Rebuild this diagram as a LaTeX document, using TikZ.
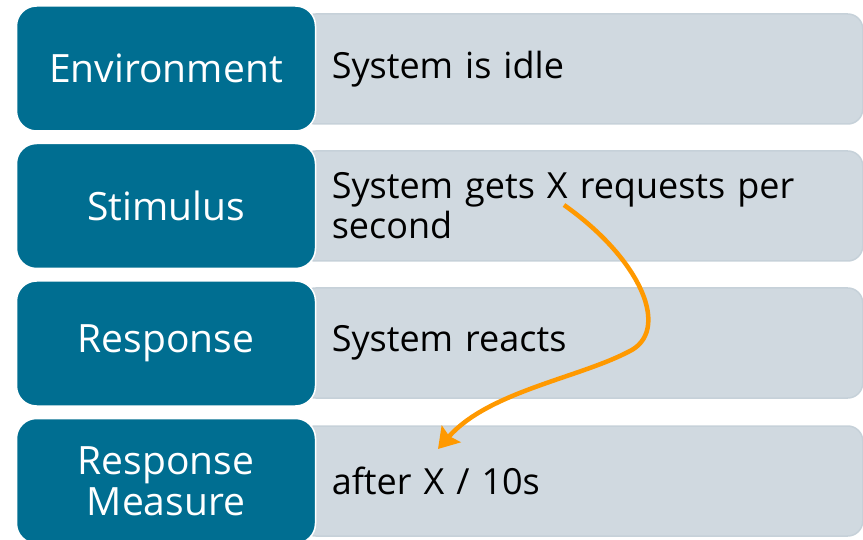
\documentclass[tikz,border=0pt]{standalone}
\usepackage{fontspec}
\setmainfont{Open Sans}
\usetikzlibrary{arrows.meta}

\definecolor{termfill}{HTML}{006E91}
\definecolor{valfill}{HTML}{D0D9E0}
\definecolor{valedge}{HTML}{C6D1D9}
\definecolor{flow}{HTML}{FF9900}

\tikzset{
  termbox/.style={draw=white, line width=1.5pt, fill=termfill, rounded corners=20pt,
    minimum width=299pt, minimum height=125pt, text=white, align=center,
    font=\fontsize{39}{41}\selectfont, inner sep=0pt},
  valbox/.style={draw=valedge, line width=1.5pt, fill=valfill, rounded corners=15pt,
    minimum height=110pt, text width=500pt, inner xsep=31pt, inner ysep=0pt,
    align=left, text=black, font=\fontsize{36}{40}\selectfont},
  flowarrow/.style={draw=flow, line width=4.5pt,
    -{Stealth[length=20pt,width=25pt,inset=3pt]}}
}

\begin{document}
\begin{tikzpicture}[x=1pt, y=-1pt]
  \useasboundingbox (0,0) rectangle (863,540);
  \clip (0,0) rectangle (863,540);

  % value boxes (behind the term boxes)
  \node[valbox, anchor=west] (v1) at (300,69)  {System is idle};
  \node[valbox, anchor=west] (v2) at (300,206) {System gets X requests per\\second};
  \node[valbox, anchor=west] (v3) at (300,343) {System reacts};
  \node[valbox, anchor=west] (v4) at (300,481) {after X / 10s};

  % term boxes
  \node[termbox] (t1) at (166,68.5)  {Environment};
  \node[termbox] (t2) at (166,206)   {Stimulus};
  \node[termbox] (t3) at (166,343.5) {Response};
  \node[termbox] (t4) at (166,481)   {Response\\Measure};

  % curved arrow from the stimulus to the measure
  \coordinate (src) at (564,205);
  \coordinate (mid) at (628,352);
  \coordinate (dst) at (438,449);
  \draw[flowarrow] (src) .. controls (642,260) and (672,332) .. (mid)
                         .. controls (578,378) and (488,392) .. (dst);
\end{tikzpicture}
\end{document}
